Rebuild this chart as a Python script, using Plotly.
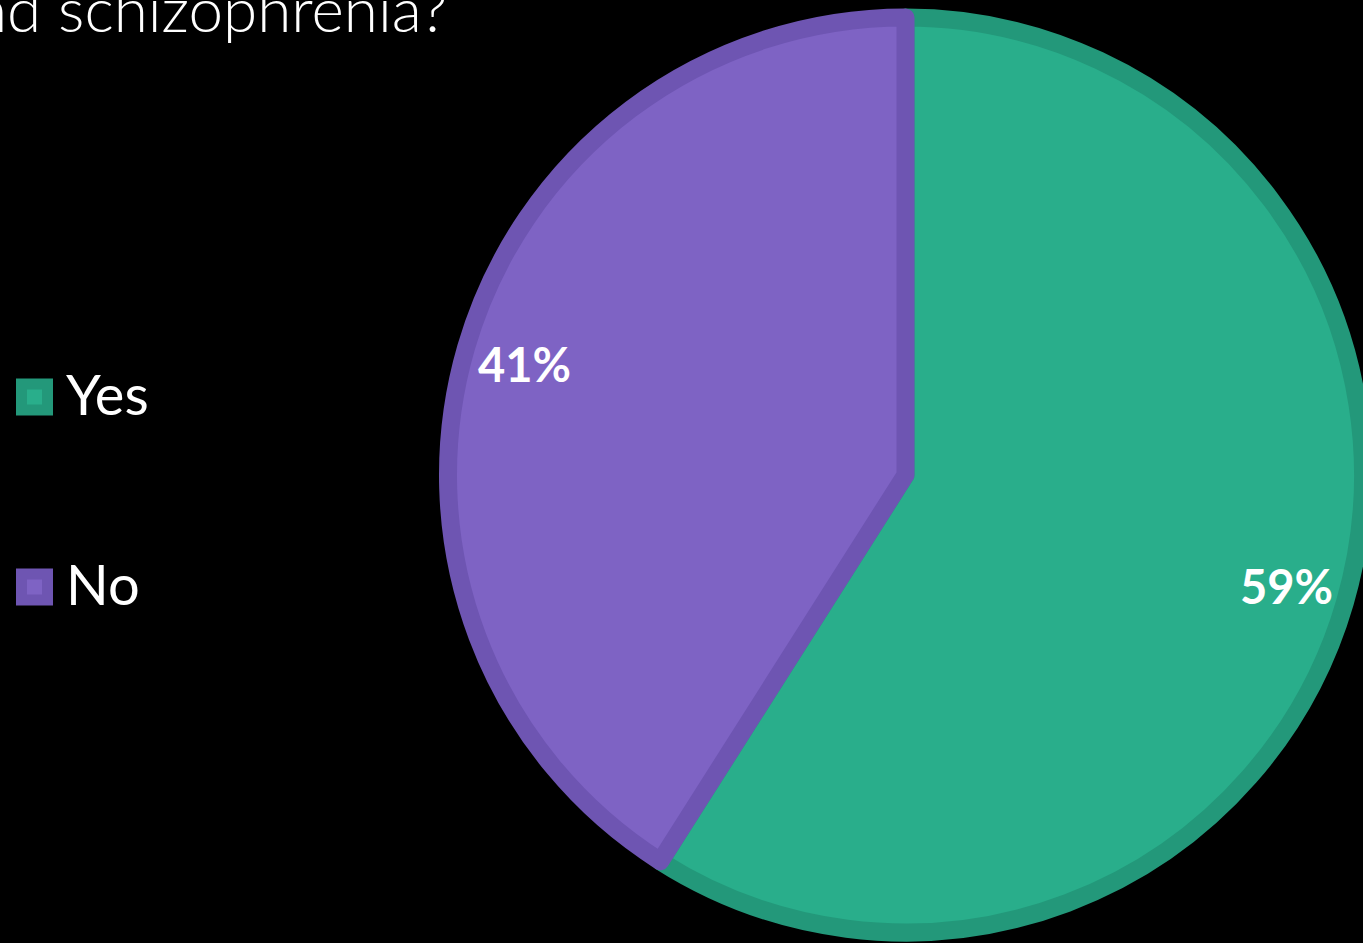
import math
import plotly.graph_objects as go

# Survey answers
answers = ["Yes", "No"]
shares = [59, 41]

fill_colors = ["#29AE8B", "#7E63C4"]
edge_colors = ["#23987A", "#6E55B2"]

W, H = 1363, 943
EDGE = 18

# pie geometry in pixels
pie_size = 915
cx = W - pie_size / 2
cy = 475
r_geo = pie_size / 2

fig = go.Figure()
fig.add_trace(go.Pie(
    labels=answers,
    values=shares,
    sort=False,
    direction="clockwise",
    rotation=0,
    marker=dict(colors=fill_colors, line=dict(color=edge_colors, width=EDGE)),
    textinfo="none",
    hoverinfo="skip",
    showlegend=False,
    domain=dict(x=[(W - pie_size) / W, 1],
                y=[1 - (cy + r_geo) / H, 1 - (cy - r_geo) / H]),
))

annotations = []

# percentage labels placed along each slice's bisector
total = sum(shares)
start = 0.0
for name, v in zip(answers, shares):
    mid = (start + v / 2) / total * 2 * math.pi
    start += v
    rho = 0.85 * (r_geo + EDGE / 2)
    px = cx + rho * math.sin(mid)
    py = cy - rho * math.cos(mid)
    annotations.append(dict(
        x=px / W, y=1 - py / H, xref="paper", yref="paper",
        text=f"{v}%", showarrow=False, xanchor="center", yanchor="middle",
        font=dict(family="Lato, Carlito, sans-serif", size=47, color="white", weight="bold"),
    ))

# legend drawn as squares + labels
shapes = []
legend_rows = [397, 587]
for name, fc, ec, ymid in zip(answers, fill_colors, edge_colors, legend_rows):
    shapes.append(dict(
        type="rect", xref="paper", yref="paper",
        x0=21.5 / W, x1=47.5 / W, y0=1 - (ymid + 13) / H, y1=1 - (ymid - 13) / H,
        fillcolor=fc, line=dict(color=ec, width=11),
    ))
    annotations.append(dict(
        x=64 / W, y=1 - (ymid - 4) / H, xref="paper", yref="paper",
        text=name, showarrow=False, xanchor="left", yanchor="middle",
        font=dict(family="Lato, Carlito, sans-serif", size=56, color="white"),
    ))

# chart title, running off the top-left corner
annotations.append(dict(
    x=449 / W, y=1 - 47 / H, xref="paper", yref="paper",
    text="and schizophrenia?", showarrow=False, xanchor="right", yanchor="bottom",
    font=dict(family="Lato, Carlito, sans-serif", size=62, color="white", weight=300),
))

fig.update_layout(
    width=W, height=H,
    margin=dict(l=0, r=0, t=0, b=0),
    paper_bgcolor="black",
    plot_bgcolor="black",
    shapes=shapes,
    annotations=annotations,
    showlegend=False,
)

fig.write_html("out.html")
